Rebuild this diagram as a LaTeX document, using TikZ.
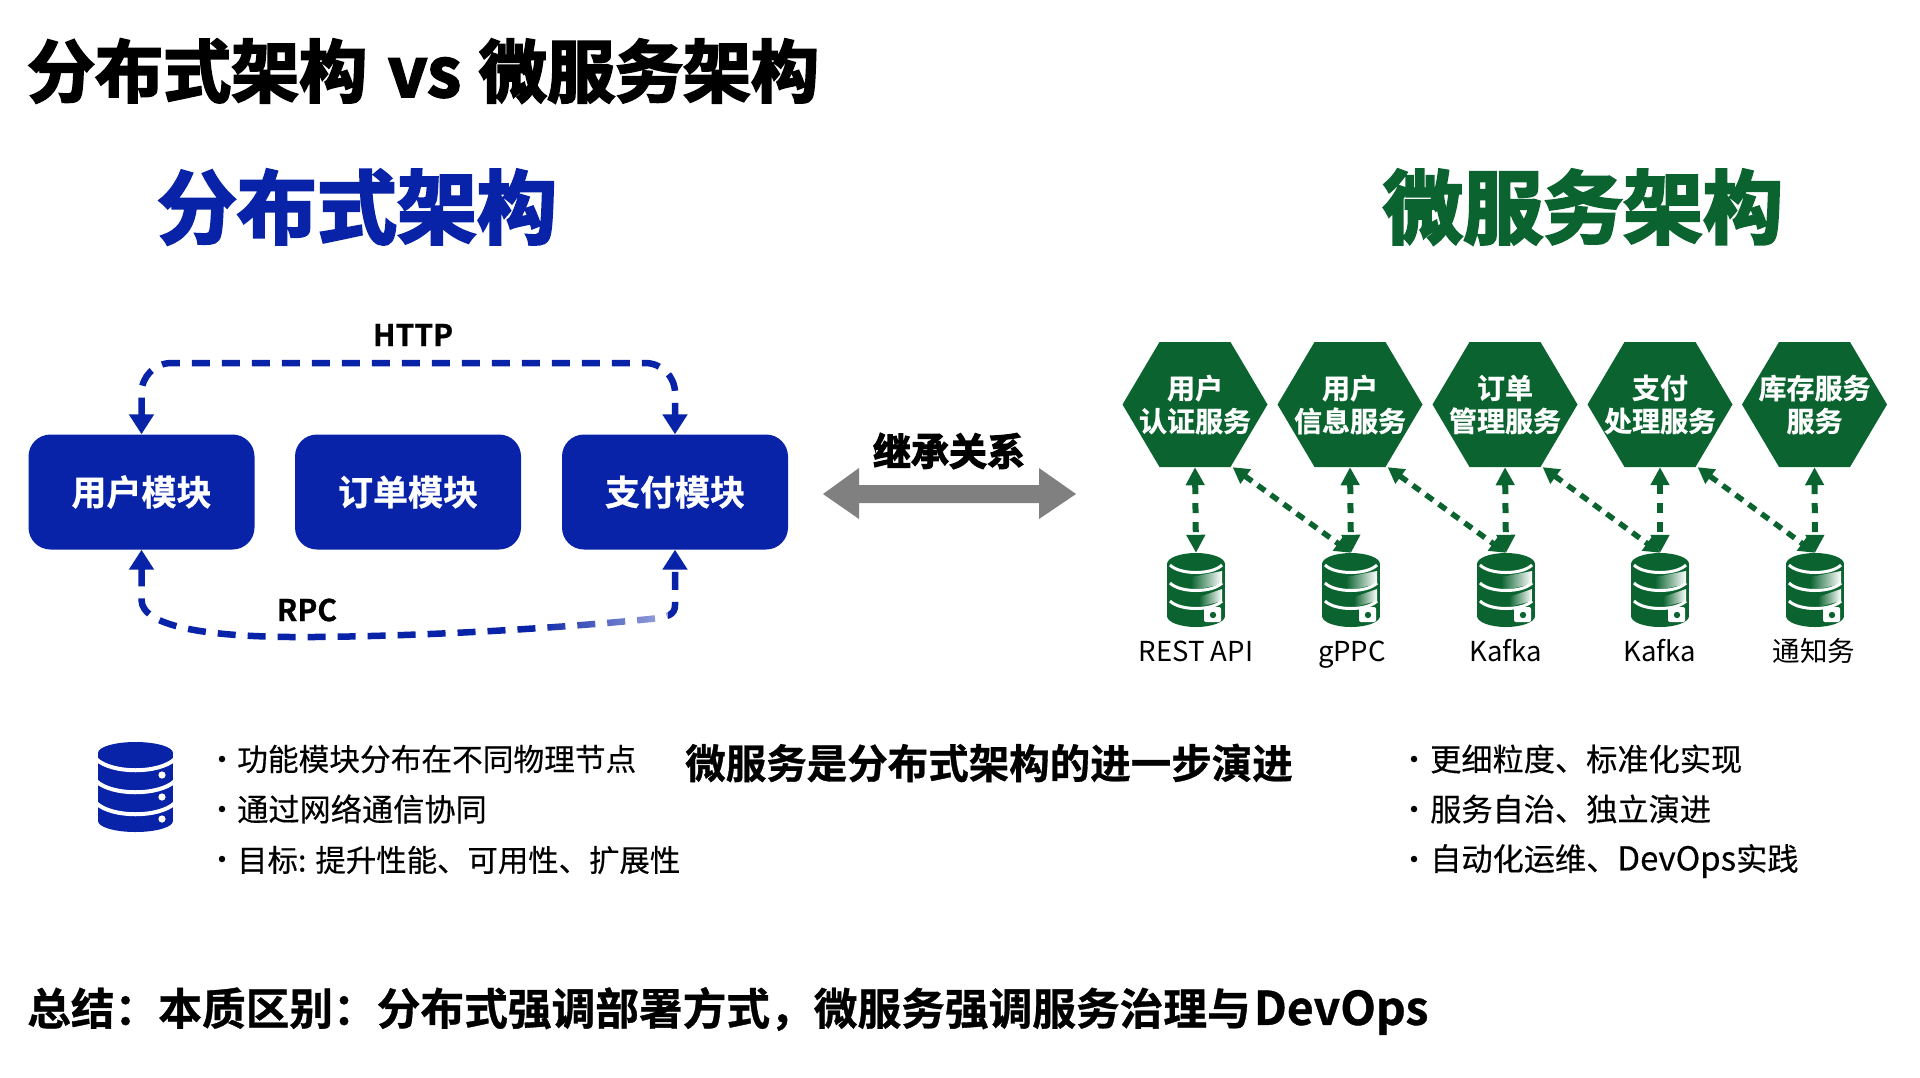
\documentclass[tikz,border=0pt]{standalone}
\usepackage{fontspec}
\setmainfont{Noto Sans CJK SC}
\newfontfamily\heavyfont[FakeBold=3.2]{Noto Sans CJK SC Bold}
\newfontfamily\semifont[FakeBold=0.8]{Noto Sans CJK SC Bold}
\newfontfamily\medfont[FakeBold=0.35]{Noto Sans CJK SC}
\usetikzlibrary{arrows.meta,fadings}
\definecolor{mblue}{HTML}{0822A8}
\definecolor{mgreen}{HTML}{0B6430}
\definecolor{mgrey}{HTML}{808080}
\tikzfading[name=fadeR,left color=transparent!100,right color=transparent!40]
\tikzset{
  bigtitle/.style={anchor=west,inner sep=0pt,font=\fontsize{68}{68}\selectfont\heavyfont},
  headt/.style={inner sep=0pt,font=\fontsize{80}{80}\selectfont\heavyfont},
  modbox/.style={draw=none,fill=mblue,rounded corners=22pt,minimum width=226pt,minimum height=115pt,inner sep=0pt,text=white,font=\fontsize{35}{35}\selectfont\semifont},
  linkt/.style={inner sep=0pt,font=\fontsize{30}{30}\selectfont\semifont},
  bluedash/.style={draw=mblue,line width=6.5pt,dash pattern=on 18pt off 12pt,{Triangle[length=20pt,width=24pt]}-{Triangle[length=20pt,width=24pt]},rounded corners=30pt},
  hexa/.style={minimum width=145pt,minimum height=125pt,inner sep=0pt,text=white,align=center,font=\fontsize{28}{33}\selectfont\semifont,
    path picture={\fill[mgreen] ([xshift=37pt]path picture bounding box.north west) -- ([xshift=-37pt]path picture bounding box.north east) -- (path picture bounding box.east) -- ([xshift=-37pt]path picture bounding box.south east) -- ([xshift=37pt]path picture bounding box.south west) -- (path picture bounding box.west) -- cycle;}},
  dbnode/.style={minimum width=58pt,minimum height=74pt,inner sep=0pt},
  dblab/.style={inner sep=0pt,text height=21pt,text depth=6pt,font=\fontsize{27.5}{27.5}\selectfont},
  greenv/.style={draw=mgreen,line width=6pt,dash pattern=on 10pt off 9pt,{Triangle[length=18pt,width=18pt]}-{Triangle[length=18pt,width=18pt]}},
  greend/.style={draw=mgreen,line width=5.5pt,dash pattern=on 9pt off 7pt,{Triangle[length=16pt,width=17pt]}-{Triangle[length=16pt,width=17pt]}},
  bul/.style={anchor=west,inner sep=0pt,font=\fontsize{31.2}{31.2}\selectfont\medfont},
  bulnarrow/.style={anchor=west,inner sep=0pt,font=\fontsize{30.7}{30.7}\selectfont\medfont},
  bulthird/.style={anchor=west,inner sep=0pt,font=\fontsize{30.4}{30.4}\selectfont\medfont},
  dotb/.style={circle,fill=black,inner sep=0pt,minimum size=6.5pt},
}
\newcommand{\greendb}[1]{%
  \fill[mgreen] (#1,564) ellipse [x radius=29,y radius=11];
  \fill[mgreen] (#1-29,564) rectangle (#1+29,616);
  \fill[mgreen] (#1,616) ellipse [x radius=29,y radius=11];
  \shade[left color=mgreen,right color=white] (#1-5,577) -- (#1+26,571) -- (#1+26,584) -- (#1-5,591) -- cycle;
  \shade[left color=mgreen,right color=white] (#1+3,597) -- (#1+26,589) -- (#1+26,601) -- (#1+3,607) -- cycle;
  \fill[white,rounded corners=2pt] (#1+8,607) rectangle (#1+25,622);
  \fill[mgreen] (#1+17,615) circle (3.2);
  \foreach \k in {0,18,36}{
    \draw[white,line width=3pt] (#1-26,565+\k) .. controls (#1-16,575+\k) and (#1+16,575+\k) .. (#1+26,565+\k);
  }
}
\begin{document}
\begin{tikzpicture}[x=1pt,y=-1pt]
\useasboundingbox (0,0) rectangle (1920,1077);
\fill[white] (0,0) rectangle (1920,1077);
% titles
\node[bigtitle] (title) at (27,71) {分布式架构\hspace{21pt}vs\hspace{18pt}微服务架构};
\node[headt,text=mblue] (headl) at (357,207) {分布式架构};
\node[headt,text=mgreen] (headr) at (1583,207) {微服务架构};
% modules
\node[modbox] (m1) at (141.5,492) {用户模块};
\node[modbox] (m2) at (408,492) {订单模块};
\node[modbox] (m3) at (675,492) {支付模块};
\coordinate (httptop) at (408,363);
\draw[bluedash] (m1.north) -- (m1.north |- httptop) -- (m3.north |- httptop) -- (m3.north);
\node[linkt] (http) at (413,335) {HTTP};
\coordinate (r1) at (141.5,600);
\coordinate (r2) at (314,637);
\coordinate (r3) at (675,605);
\draw[bluedash,rounded corners=0pt] (m1.south) -- (r1) .. controls (142,625) and (200,638) .. (r2) .. controls (430,636) and (560,628) .. (650,619) .. controls (668,617) and (675,615) .. (r3) -- (m3.south);
\fill[white,path fading=fadeR] (530,608) rectangle (668,634);
\node[linkt] (rpc) at (307,610) {RPC};
% inheritance arrow
\fill[mgrey] (823,494) -- (859,468) -- (859,485) -- (1039,485) -- (1039,468) -- (1076,494) -- (1039,519) -- (1039,503) -- (859,503) -- (859,519) -- cycle;
\node[inner sep=0pt,font=\fontsize{38}{38}\selectfont\heavyfont] (inh) at (949,451) {继承关系};
% hexagons
\node[hexa] (h1) at (1195,404.5) {用户\\认证服务};
\node[hexa] (h2) at (1350,404.5) {用户\\信息服务};
\node[hexa] (h3) at (1505,404.5) {订单\\管理服务};
\node[hexa] (h4) at (1660,404.5) {支付\\处理服务};
\node[hexa] (h5) at (1814.5,404.5) {库存服务\\服务};
% databases
\foreach \cx/\n in {1196/1,1351/2,1506/3,1660/4,1815/5}{
  \greendb{\cx}
  \node[dbnode] (c\n) at (\cx,590) {};
}
\node[dblab] (l1) at (1196,653.5) {REST API};
\node[dblab] (l2) at (1352,653.5) {gPPC};
\node[dblab] (l3) at (1506,653.5) {Kafka};
\node[dblab] (l4) at (1660,653.5) {Kafka};
\node[dblab] (l5) at (1814,653.5) {通知务};
% connectors
\foreach \n in {1,...,5}{
  \draw[greenv] (h\n.south) -- (c\n.north);
}
\draw[greend] (h1.-59) -- (c2.north);
\draw[greend] (h2.-59) -- (c3.north);
\draw[greend] (h3.-59) -- (c4.north);
\draw[greend] (h4.-59) -- (c5.north);
% blue database icon
\fill[mblue] (135.5,753) ellipse [x radius=37.5,y radius=11];
\fill[mblue] (98,753) rectangle (173,821);
\fill[mblue] (135.5,821) ellipse [x radius=37.5,y radius=11];
\foreach \k in {0,22,44}{
  \draw[white,line width=4pt] (96,759+\k) .. controls (112,774+\k) and (159,774+\k) .. (175,759+\k);
}
\foreach \yy in {775,797,819}{ \fill[white] (162,\yy) circle (3.6); }
% left bullets
\node[dotb] (b1) at (222,759) {};
\node[dotb] (b2) at (222,809) {};
\node[dotb] (b3) at (222,859) {};
\node[bulnarrow] (t1) at (237,759) {功能模块分布在不同物理节点};
\node[bul] (t2) at (237,809) {通过网络通信协同};
\node[bulthird] (t3) at (237,860) {目标: 提升性能、可用性、扩展性};
\node[inner sep=0pt,font=\fontsize{40.5}{40.5}\selectfont\semifont] (mid) at (989,763) {微服务是分布式架构的进一步演进};
% right bullets
\node[dotb] (b4) at (1414,759) {};
\node[dotb] (b5) at (1414,809) {};
\node[dotb] (b6) at (1414,859) {};
\node[bul] (t4) at (1430,759) {更细粒度、标准化实现};
\node[bul] (t5) at (1430,809) {服务自治、独立演进};
\node[bul] (t6) at (1430,861) {自动化运维、{\fontsize{33}{33}\selectfont DevOps}实践};
% summary
\node[anchor=west,inner sep=0pt,font=\fontsize{43.7}{43.7}\selectfont\semifont] (sum) at (27,1011) {总结：本质区别：分布式强调部署方式，微服务强调服务治理与\hspace{3pt}{\fontsize{46.3}{46.3}\selectfont DevOps}};
\end{tikzpicture}
\end{document}
